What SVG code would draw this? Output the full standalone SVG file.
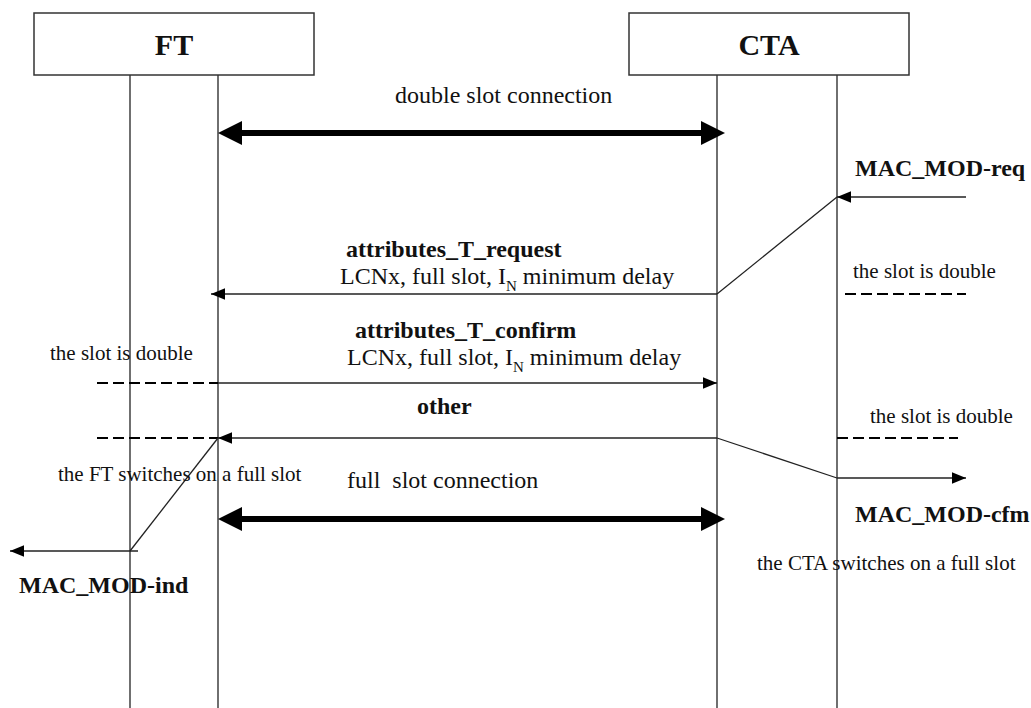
<svg xmlns="http://www.w3.org/2000/svg" width="1031" height="708" viewBox="0 0 1031 708">
<defs>
<marker id="ah" markerUnits="userSpaceOnUse" markerWidth="14" markerHeight="12" viewBox="0 0 12 10" refX="12" refY="5" orient="auto">
<path d="M0,0 L12,5 L0,10 Z" fill="#000"/>
</marker>
<marker id="big" markerUnits="userSpaceOnUse" markerWidth="24" markerHeight="24" viewBox="0 0 22 22" refX="11" refY="11" orient="auto-start-reverse">
<path d="M0,0 L22,11 L0,22 Z" fill="#000"/>
</marker>
<style>
.box{fill:#fff;stroke:#333;stroke-width:1.5}
.life{stroke:#333;stroke-width:1.4;fill:none}
.msg{stroke:#222;stroke-width:1.3;fill:none}
.thick{stroke:#000;stroke-width:6;fill:none}
.dash{stroke:#000;stroke-width:2;stroke-dasharray:11 5;fill:none}
.t{font-family:"Liberation Serif","Times New Roman",serif;fill:#111}
.lbl{font-size:24px}
.ann{font-size:21px}
.b{font-weight:bold}
.hdr{font-size:30px;font-weight:bold;text-anchor:middle}
</style>
</defs>
<rect width="1031" height="708" fill="#fff"/>
<g id="FT">
<rect class="box" x="34" y="13" width="280" height="62"/>
<text class="t hdr" x="174" y="55">FT</text>
<line class="life" x1="130" y1="75" x2="130" y2="708"/>
<line class="life" x1="218" y1="75" x2="218" y2="708"/>
</g>
<g id="CTA">
<rect class="box" x="629" y="13" width="280" height="62"/>
<text class="t hdr" x="769" y="55">CTA</text>
<line class="life" x1="717" y1="75" x2="717" y2="708"/>
<line class="life" x1="837" y1="75" x2="837" y2="708"/>
</g>
<g id="connectors">
<line class="thick" x1="230" y1="133" x2="713" y2="133" marker-start="url(#big)" marker-end="url(#big)"/>
<line class="msg" x1="966" y1="197" x2="837" y2="197" marker-end="url(#ah)"/>
<line class="msg" x1="837" y1="197" x2="717" y2="294"/>
<line class="msg" x1="717" y1="294" x2="211" y2="294" marker-end="url(#ah)"/>
<line class="dash" x1="845" y1="294" x2="966" y2="294"/>
<line class="msg" x1="218" y1="383" x2="717" y2="383" marker-end="url(#ah)"/>
<line class="dash" x1="97" y1="383" x2="218" y2="383"/>
<line class="msg" x1="717" y1="438" x2="218" y2="438" marker-end="url(#ah)"/>
<line class="dash" x1="97" y1="438" x2="218" y2="438"/>
<line class="dash" x1="837" y1="438" x2="958" y2="438"/>
<line class="msg" x1="218" y1="438" x2="130" y2="551"/>
<line class="msg" x1="138" y1="551" x2="10" y2="551" marker-end="url(#ah)"/>
<line class="msg" x1="717" y1="438" x2="837" y2="478"/>
<line class="msg" x1="837" y1="478" x2="966" y2="478" marker-end="url(#ah)"/>
<line class="thick" x1="230" y1="519" x2="713" y2="519" marker-start="url(#big)" marker-end="url(#big)"/>
</g>
<g id="labels">
<text class="t lbl" x="395" y="103">double slot connection</text>
<text class="t lbl b" x="855" y="176">MAC_MOD-req</text>
<text class="t lbl b" x="346" y="257">attributes_T_request</text>
<text class="t lbl" x="340" y="284">LCNx, full slot, I<tspan font-size="15" dy="7">N</tspan><tspan dy="-7"> minimum delay</tspan></text>
<text class="t ann" x="853" y="278">the slot is double</text>
<text class="t lbl b" x="355" y="338">attributes_T_confirm</text>
<text class="t lbl" x="347" y="365">LCNx, full slot, I<tspan font-size="15" dy="7">N</tspan><tspan dy="-7"> minimum delay</tspan></text>
<text class="t ann" x="50" y="360">the slot is double</text>
<text class="t lbl b" x="417" y="414">other</text>
<text class="t ann" x="870" y="423">the slot is double</text>
<text class="t ann" x="58" y="481">the FT switches on a full slot</text>
<text class="t lbl" x="347" y="488" xml:space="preserve">full  slot connection</text>
<text class="t lbl b" x="855" y="522">MAC_MOD-cfm</text>
<text class="t ann" x="757" y="570">the CTA switches on a full slot</text>
<text class="t lbl b" x="19" y="593">MAC_MOD-ind</text>
</g>
</svg>
